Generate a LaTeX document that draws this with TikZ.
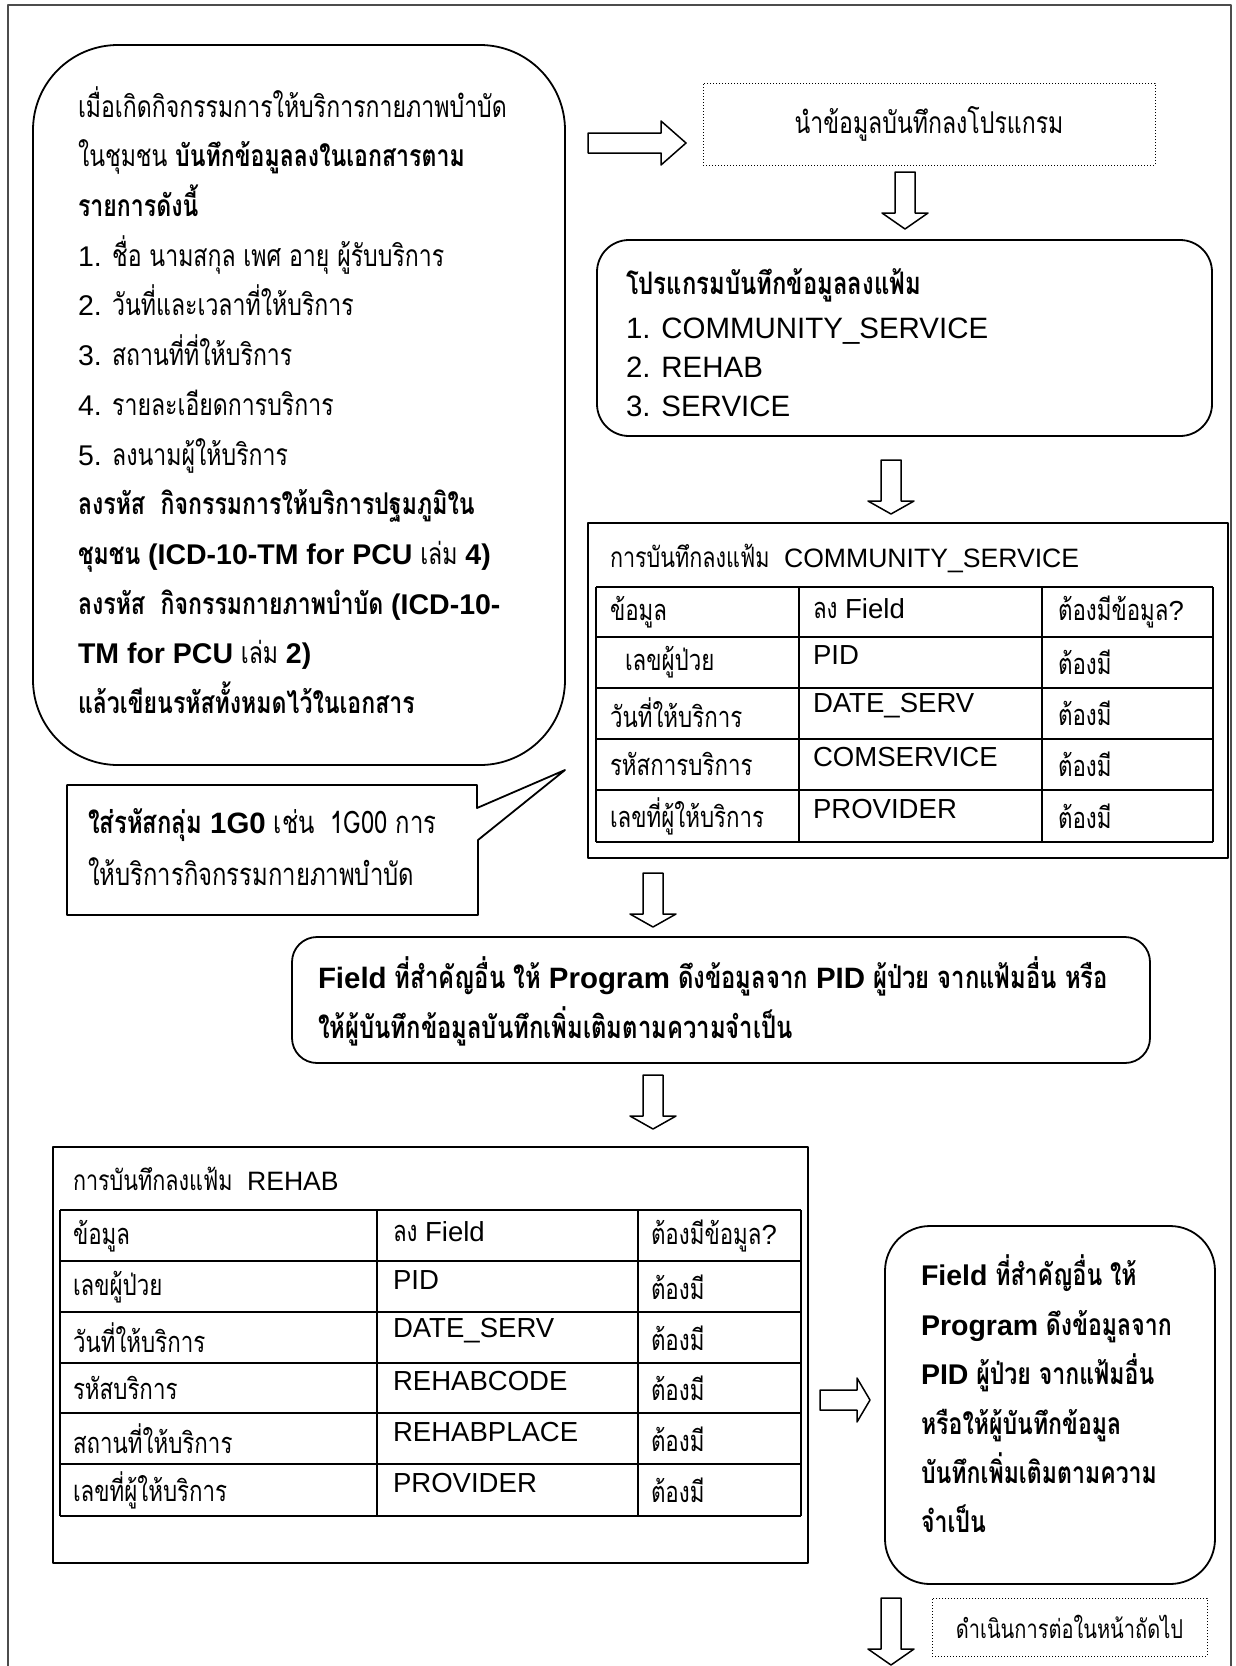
\documentclass[tikz,border=0pt]{standalone}
\usepackage{fontspec}
\setmainfont{Loma}[Script=Thai,FakeStretch=0.77]
\newfontfamily\latfont{Liberation Sans}[Scale=0.95]
\newcommand\en[1]{{\latfont #1}}
\newcommand\sz[2]{\fontsize{#1}{#2}\selectfont}

\begin{document}
\begin{tikzpicture}[x=1pt,y=-1pt,line join=round,
    every node/.style={inner sep=0pt,outer sep=0pt},
    frame/.style={draw=black!70,line width=1.6pt},
    rbox/.style={draw,line width=1.8pt,anchor=north west},
    dotbox/.style={draw,line width=1pt,dash pattern=on 1pt off 2pt,anchor=north west},
    txt/.style={anchor=west,align=left},
    cell/.style={anchor=west},
    blk/.style={draw,line width=1.5pt,fill=white},
    tline/.style={line width=2.6pt},
    pics/downblk/.style 2 args={code={
      \draw[blk] (-10,0) -- (10,0) -- (10,#1) -- (23,#1) -- (0,{#1+#2}) -- (-23,#1) -- (-10,#1) -- cycle;}},
    pics/rightblk/.style 2 args={code={
      \draw[blk] (0,-10) -- (#1,-10) -- (#1,-22) -- ({#1+#2},0) -- (#1,22) -- (#1,10) -- (0,10) -- cycle;}},
  ]
  \useasboundingbox (0,0) rectangle (1236,1666);
  \draw[frame] (8,1666) -- (8,5) -- (1231,5) -- (1231,1666);

  % what is written down on paper
  \node[rbox,rounded corners=85pt,minimum width=532pt,minimum height=720pt] (paper) at (33,45) {};
  \node[txt,font=\sz{30}{49.7}] (papertxt) at ([xshift=45pt,yshift=5pt]paper.west) {%
    เมื่อเกิดกิจกรรมการให้บริการกายภาพบำบัด\\
    ในชุมชน \textbf{บันทึกข้อมูลลงในเอกสารตาม}\\
    \textbf{รายการดังนี้}\\
    \en{1.} ชื่อ นามสกุล เพศ อายุ ผู้รับบริการ\\
    \en{2.} วันที่และเวลาที่ให้บริการ\\
    \en{3.} สถานที่ที่ให้บริการ\\
    \en{4.} รายละเอียดการบริการ\\
    \en{5.} ลงนามผู้ให้บริการ\\
    \textbf{ลงรหัส\ \ กิจกรรมการให้บริการปฐมภูมิใน}\\
    \textbf{ชุมชน \en{(ICD-10-TM for PCU}} เล่ม \textbf{\en{4)}}\\
    \textbf{ลงรหัส\ \ กิจกรรมกายภาพบำบัด \en{(ICD-10-}}\\
    \textbf{\en{TM for PCU}} เล่ม \textbf{\en{2)}}\\
    \textbf{แล้วเขียนรหัสทั้งหมดไว้ในเอกสาร}};

  % callout with the code group
  \draw[line width=1.8pt] (67,785) -- (477,785) -- (477,808) -- (565,770) -- (478,840) -- (478,915) -- (67,915) -- cycle;
  \node[txt,font=\sz{31}{52}] (codetxt) at (88,847) {%
    \textbf{ใส่รหัสกลุ่ม \en{1G0}} เช่น\ \ 1G00 การ\\
    ให้บริการกิจกรรมกายภาพบำบัด};

  \pic at (588,143) {rightblk={73}{25}};
  \node[dotbox,minimum width=452pt,minimum height=82pt,font=\sz{30}{36}] (key) at (703,83) {นำข้อมูลบันทึกลงโปรแกรม};
  \pic at (905,172) {downblk={41}{16}};

  % program writes the files
  \node[rbox,rounded corners=32pt,minimum width=615pt,minimum height=196pt] (prog) at (597,240) {};
  \node[txt,font=\sz{31}{39}] (progtxt) at ([xshift=29pt,yshift=-5pt]prog.west) {%
    \textbf{โปรแกรมบันทึกข้อมูลลงแฟ้ม}\\[5pt]
    \en{1. COMMUNITY\_SERVICE}\\
    \en{2. REHAB}\\
    \en{3. SERVICE}};
  \pic at (891,460) {downblk={41}{13}};

  % file COMMUNITY_SERVICE
  \node[rbox,line width=1.4pt,minimum width=640pt,minimum height=335pt] (cs) at (588,523) {};
  \node[cell,font=\sz{28}{30}] (cstitle) at (610,558) {การบันทึกลงแฟ้ม\ \ \en{COMMUNITY\_SERVICE}};
  \foreach \y in {587,637,688,739,790,842} \draw[tline] (596,\y) -- (1213,\y);
  \foreach \x in {596,799,1042,1213} \draw[tline] (\x,587) -- (\x,842);
  \begin{scope}[font=\sz{29}{30}]
    \node[cell] (csa0) at (610,612) {ข้อมูล};
    \node[cell] (csb0) at (813,609) {ลง \en{Field}};
    \node[cell] (csc0) at (1058,612) {ต้องมีข้อมูล\en{?}};
    \foreach \y/\a/\b [count=\k] in {662/\ \ เลขผู้ป่วย/PID,713/วันที่ให้บริการ/DATE\_SERV,
        764/รหัสการบริการ/COMSERVICE,816/เลขที่ผู้ให้บริการ/PROVIDER}{
      \node[cell] (csa\k) at (610,\y) {\a};
      \node[cell] (csb\k) at (813,\y-7) {\en{\b}};
      \node[cell] (csc\k) at (1058,\y) {ต้องมี};
    }
  \end{scope}
  \pic at (653,873) {downblk={41}{13}};

  % other fields
  \node[rbox,rounded corners=25pt,minimum width=858pt,minimum height=126pt] (pull) at (292,937) {};
  \node[txt,font=\sz{31}{50}\bfseries] (pulltxt) at ([xshift=26pt,yshift=-1.5pt]pull.west) {%
    \en{Field} ที่สำคัญอื่น ให้ \en{Program} ดึงข้อมูลจาก \en{PID} ผู้ป่วย จากแฟ้มอื่น หรือ\\
    ให้ผู้บันทึกข้อมูลบันทึกเพิ่มเติมตามความจำเป็น};
  \pic at (653,1075) {downblk={41}{13}};

  % file REHAB
  \node[rbox,line width=1.4pt,minimum width=755pt,minimum height=416pt] (rh) at (53,1147) {};
  \node[cell,font=\sz{28}{30}] (rhtitle) at (73,1179) {การบันทึกลงแฟ้ม\ \ \en{REHAB}};
  \foreach \y in {1210,1261,1312,1363,1413,1464,1516} \draw[tline] (60,\y) -- (801,\y);
  \foreach \x in {60,377,638,801} \draw[tline] (\x,1210) -- (\x,1516);
  \begin{scope}[font=\sz{29}{30}]
    \node[cell] (rha0) at (73,1236) {ข้อมูล};
    \node[cell] (rhb0) at (393,1232) {ลง \en{Field}};
    \node[cell] (rhc0) at (651,1236) {ต้องมีข้อมูล\en{?}};
    \foreach \y/\a/\b [count=\k] in {1287/เลขผู้ป่วย/PID,1338/วันที่ให้บริการ/DATE\_SERV,
        1388/รหัสบริการ/REHABCODE,1439/สถานที่ให้บริการ/REHABPLACE,1490/เลขที่ผู้ให้บริการ/PROVIDER}{
      \node[cell] (rha\k) at (73,\y) {\a};
      \node[cell] (rhb\k) at (393,\y-7) {\en{\b}};
      \node[cell] (rhc\k) at (651,\y) {ต้องมี};
    }
  \end{scope}
  \pic at (820,1400) {rightblk={37}{13}};

  % other fields, second time
  \node[rbox,rounded corners=45pt,minimum width=330pt,minimum height=358pt] (pull2) at (885,1226) {};
  \node[txt,font=\sz{30}{49.4}\bfseries] (pull2txt) at ([xshift=36pt,yshift=11pt]pull2.west) {%
    \en{Field} ที่สำคัญอื่น ให้\\
    \en{Program} ดึงข้อมูลจาก\\
    \en{PID} ผู้ป่วย จากแฟ้มอื่น\\
    หรือให้ผู้บันทึกข้อมูล\\
    บันทึกเพิ่มเติมตามความ\\
    จำเป็น};

  \pic at (891,1598) {downblk={51}{16}};
  \node[dotbox,minimum width=275pt,minimum height=58pt,font=\sz{26}{30}] (next) at (932,1598) {ดำเนินการต่อในหน้าถัดไป};
\end{tikzpicture}
\end{document}
